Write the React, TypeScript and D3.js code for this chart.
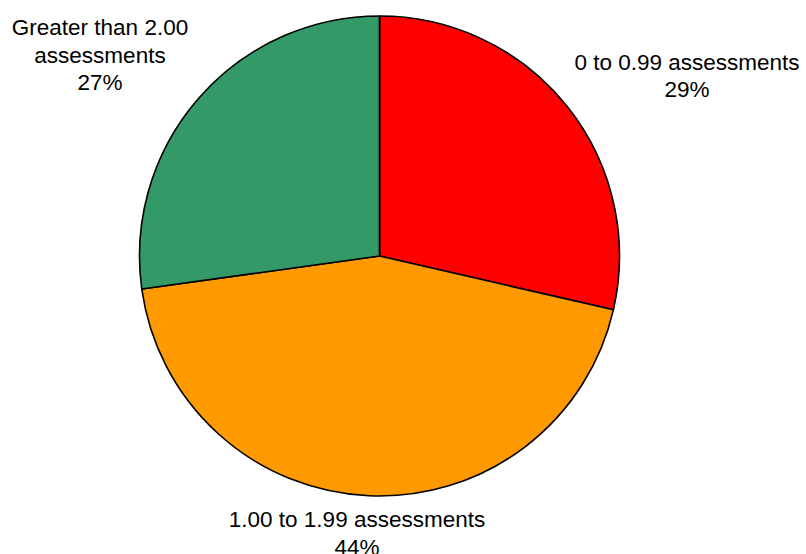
import React from "react";
import * as d3 from "d3";

// Share of sites by average number of assessments
const categories = ["0 to 0.99 assessments", "1.00 to 1.99 assessments", "Greater than 2.00 assessments"];
const shares = [28.6, 44.2, 27.2];
const sliceColors = ["#FF0000", "#FF9900", "#339966"];

const WIDTH = 806;
const HEIGHT = 554;
const CX = 379.5;
const CY = 256;
const RADIUS = 240;
const FONT_SIZE = 22.5;
const LINE_HEIGHT = 27.5;

// Label blocks: lines of text and the baseline of the first line
const labelLayout = [
  { lines: ["0 to 0.99 assessments"], x: 687, y: 69.5 },
  { lines: ["1.00 to 1.99 assessments"], x: 357, y: 527 },
  { lines: ["Greater than 2.00", "assessments"], x: 100, y: 35 },
];

export default function App() {
  const data = categories.map((c, i) => ({ category: c, value: shares[i], color: sliceColors[i] }));
  const pie = d3.pie<(typeof data)[number]>().sort(null).value((d) => d.value);
  const arcs = pie(data);
  const arc = d3.arc<d3.PieArcDatum<(typeof data)[number]>>().innerRadius(0).outerRadius(RADIUS);
  const fmt = d3.format(".0f");

  return (
    <svg
      width={WIDTH}
      height={HEIGHT}
      style={{ position: "absolute", left: 0, top: 0, background: "#fff" }}
      fontFamily="'Liberation Sans', Arial, sans-serif"
    >
      <g transform={`translate(${CX},${CY})`}>
        {arcs.map((a, i) => (
          <path key={i} d={arc(a) ?? ""} fill={a.data.color} stroke="#000" strokeWidth={1.6} strokeLinejoin="round" />
        ))}
      </g>
      {arcs.map((a, i) => {
        const l = labelLayout[i];
        const lines = [...l.lines, `${fmt(a.data.value)}%`];
        return (
          <text key={i} x={l.x} y={l.y} textAnchor="middle" fontSize={FONT_SIZE} fill="#000">
            {lines.map((t, j) => (
              <tspan key={j} x={l.x} y={l.y + j * LINE_HEIGHT}>
                {t}
              </tspan>
            ))}
          </text>
        );
      })}
    </svg>
  );
}
